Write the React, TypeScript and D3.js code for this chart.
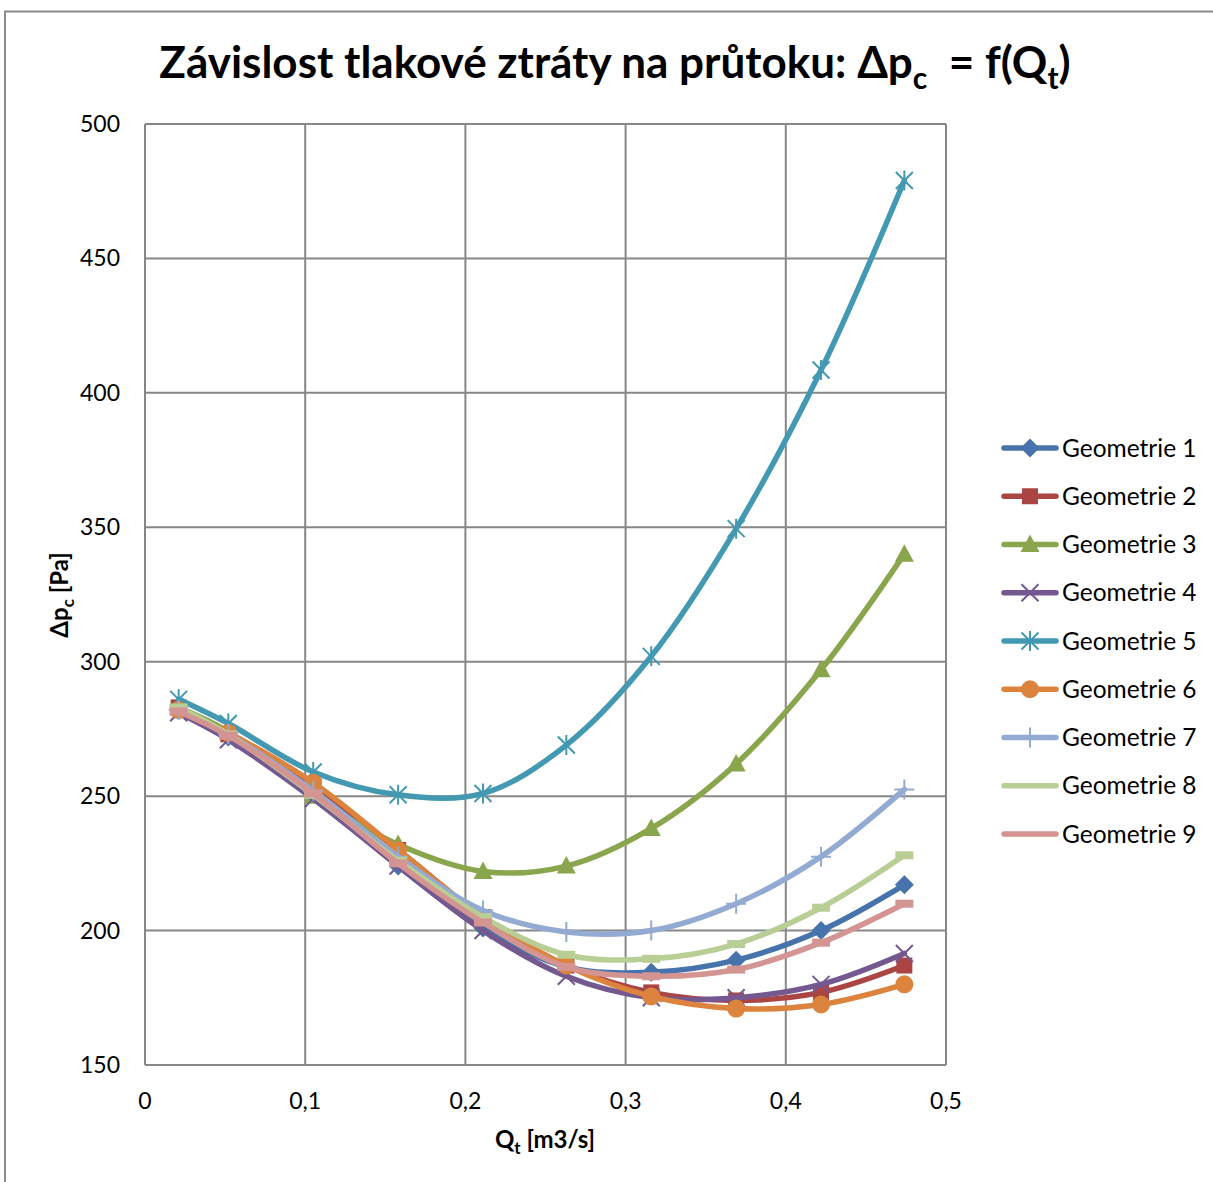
import React from "react";
import * as d3 from "d3";

const qt = [0.021, 0.052, 0.105, 0.158, 0.211, 0.263, 0.316, 0.369, 0.422, 0.474];
const g1 = [282, 272, 251, 224, 201, 186.5, 184.5, 189, 200, 217];
const g2 = [283, 273, 253, 230, 205, 187, 177, 174, 177, 187];
const g3 = [283, 274, 250, 232, 222, 224, 238, 262, 297, 340];
const g4 = [281, 271, 249, 224, 200, 183, 175, 175, 180, 191.5];
const g5 = [286, 277, 259, 250.5, 251, 269, 302, 349.5, 408.5, 479];
const g6 = [282, 273.5, 255, 230, 205, 187, 175.5, 171, 172.5, 180];
const g7 = [282, 273, 252, 227.5, 207.5, 199.5, 200, 210, 227.5, 252.5];
const g8 = [283, 273, 250.5, 226, 205, 191, 189.5, 195, 208.5, 228];
const g9 = [281.5, 272.5, 251, 225, 203, 186.5, 183, 185.5, 195.5, 210];

const seriesNames = ["Geometrie 1", "Geometrie 2", "Geometrie 3", "Geometrie 4", "Geometrie 5", "Geometrie 6", "Geometrie 7", "Geometrie 8", "Geometrie 9"];
const seriesValues = [g1, g2, g3, g4, g5, g6, g7, g8, g9];
const seriesColors = ["#4673AB", "#AB4543", "#8AA64D", "#735990", "#4299B1", "#DC843D", "#93AAD2", "#B8CE95", "#D49492"];
const seriesMarkers = ["diamond", "square", "triangle", "x", "asterisk", "circle", "plus", "dash", "dash"];

const xTicks = [0, 0.1, 0.2, 0.3, 0.4, 0.5];
const yTicks = [150, 200, 250, 300, 350, 400, 450, 500];

const FONT = "Lato, 'Open Sans', sans-serif";

function Marker({ type, x, y, color }: { type: string; x: number; y: number; color: string }) {
  switch (type) {
    case "diamond":
      return <path d={`M${x},${y - 9.5}L${x + 9.5},${y}L${x},${y + 9.5}L${x - 9.5},${y}Z`} fill={color} />;
    case "square":
      return <rect x={x - 8} y={y - 8} width={16} height={16} fill={color} />;
    case "triangle":
      return <path d={`M${x},${y - 10}L${x + 9.5},${y + 7.5}L${x - 9.5},${y + 7.5}Z`} fill={color} />;
    case "circle":
      return <circle cx={x} cy={y} r={9} fill={color} />;
    case "x":
      return (
        <path d={`M${x - 8.5},${y - 8.5}L${x + 8.5},${y + 8.5}M${x - 8.5},${y + 8.5}L${x + 8.5},${y - 8.5}`} stroke={color} strokeWidth={2} />
      );
    case "asterisk":
      return (
        <path
          d={`M${x - 8.5},${y - 8.5}L${x + 8.5},${y + 8.5}M${x - 8.5},${y + 8.5}L${x + 8.5},${y - 8.5}M${x},${y - 10}L${x},${y + 10}`}
          stroke={color}
          strokeWidth={2}
        />
      );
    case "plus":
      return <path d={`M${x},${y - 10}L${x},${y + 10}M${x - 10},${y}L${x + 10},${y}`} stroke={color} strokeWidth={2} />;
    case "dash":
      return <rect x={x - 9} y={y - 4} width={18} height={8} fill={color} />;
    default:
      return null;
  }
}

export default function App() {
  const left = 145, right = 946, top = 124, bottom = 1065;
  const x = d3.scaleLinear().domain([0, 0.5]).range([left, right]);
  const y = d3.scaleLinear().domain([150, 500]).range([bottom, top]);
  const line = d3
    .line<[number, number]>()
    .x((d) => x(d[0]))
    .y((d) => y(d[1]))
    .curve(d3.curveCatmullRom.alpha(0.5));
  const gridColor = "#878787";
  const fmt = (v: number) => String(v).replace(".", ",");
  const legendY0 = 448, legendStep = 48.25;

  return (
    <svg width={1213} height={1182} style={{ position: "absolute", left: 0, top: 0, background: "#fff" }} fontFamily={FONT}>
      <rect x={0} y={0} width={1213} height={1182} fill="#fff" />
      <path d="M5,1182L5,11.5L1213,11.5" fill="none" stroke="#8c8c8c" strokeWidth={2} />
      <text x={615} y={78} textAnchor="middle" fontSize={44} fontWeight="bold" fill="#000">
        Závislost tlakové ztráty na průtoku: Δp
        <tspan fontSize={30} dy={11}>c</tspan>
        <tspan dy={-11}>{"\u00a0 = f(Q"}</tspan>
        <tspan fontSize={30} dy={11}>t</tspan>
        <tspan dy={-11}>)</tspan>
      </text>
      {xTicks.map((t) => (
        <line key={"gx" + t} x1={x(t)} x2={x(t)} y1={top} y2={bottom} stroke={gridColor} strokeWidth={2} />
      ))}
      {yTicks.map((t) => (
        <line key={"gy" + t} x1={left} x2={right} y1={y(t)} y2={y(t)} stroke={gridColor} strokeWidth={2} />
      ))}
      {yTicks.map((t) => (
        <text key={"ty" + t} x={120} y={y(t) + 8} textAnchor="end" fontSize={23} fill="#000">
          {t}
        </text>
      ))}
      {xTicks.map((t) => (
        <text key={"tx" + t} x={x(t)} y={1109} textAnchor="middle" fontSize={23} fill="#000">
          {fmt(t)}
        </text>
      ))}
      <text x={545} y={1148} textAnchor="middle" fontSize={24} fontWeight="bold" fill="#000">
        Q<tspan fontSize={17} dy={6}>t</tspan>
        <tspan dy={-6}> [m3/s]</tspan>
      </text>
      <text transform="translate(68,595) rotate(-90)" textAnchor="middle" fontSize={24} fontWeight="bold" fill="#000">
        Δp<tspan fontSize={17} dy={6}>c</tspan>
        <tspan dy={-6}> [Pa]</tspan>
      </text>
      {seriesValues.map((vals, i) => {
        const pts = qt.map((q, j) => [q, vals[j]] as [number, number]);
        return (
          <g key={"s" + i}>
            <path d={line(pts) || ""} fill="none" stroke={seriesColors[i]} strokeWidth={5.5} strokeLinecap="round" />
            {pts.map((p, j) => (
              <Marker key={j} type={seriesMarkers[i]} x={x(p[0])} y={y(p[1])} color={seriesColors[i]} />
            ))}
          </g>
        );
      })}
      {seriesNames.map((name, i) => {
        const ly = legendY0 + i * legendStep;
        return (
          <g key={"l" + i}>
            <line x1={1004} x2={1056} y1={ly} y2={ly} stroke={seriesColors[i]} strokeWidth={5.5} strokeLinecap="round" />
            {seriesMarkers[i] !== "dash" && <Marker type={seriesMarkers[i]} x={1030} y={ly} color={seriesColors[i]} />}
            <text x={1062} y={ly + 8.5} fontSize={24.5} fill="#000">
              {name}
            </text>
          </g>
        );
      })}
    </svg>
  );
}
